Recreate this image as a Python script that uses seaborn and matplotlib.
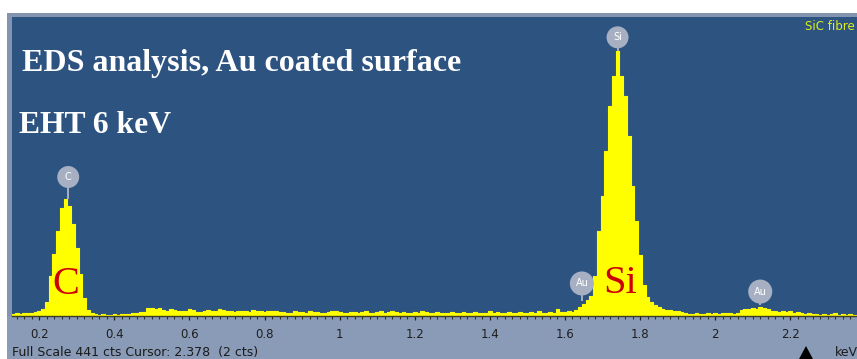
import numpy as np
import pandas as pd
import matplotlib
matplotlib.use('Agg')
import matplotlib.pyplot as plt
from matplotlib.patches import Rectangle, Polygon
import seaborn as sns

# spectrum channels, 10 eV wide, first channel centred on 0.13 keV
start_kev = 0.13
channel_kev = 0.01
counts = [
    3, 4, 3, 4, 5, 4, 6, 7, 10, 21,            # 0.13 - 0.22
    59, 91, 125, 159, 173, 162, 136, 100, 62, 27,  # 0.23 - 0.32 (C)
    9, 4, 3, 2, 3, 2, 2, 3, 2, 3,
    3, 3, 4, 4, 6, 6, 12, 12, 10, 12,
    9, 8, 10, 9, 7, 7, 8, 10, 9, 6,
    6, 8, 9, 8, 7, 10, 9, 7, 8, 6,
    7, 8, 7, 6, 9, 8, 8, 6, 7, 8,
    7, 6, 6, 4, 5, 7, 6, 6, 5, 7,
    6, 6, 5, 4, 6, 8, 7, 6, 5, 4,
    6, 6, 5, 6, 7, 5, 4, 6, 7, 5,
    6, 8, 6, 5, 6, 5, 4, 6, 5, 7,
    6, 5, 4, 6, 5, 4, 5, 6, 4, 5,
    6, 5, 4, 6, 5, 4, 5, 7, 5, 6,
    4, 5, 6, 4, 5, 6, 5, 4, 6, 5,
    7, 5, 4, 6, 5, 10, 6, 6, 7, 6,
    9, 13, 18, 24, 30, 59, 125, 177, 243, 310,    # 1.63 - 1.72
    354, 391, 354, 325, 266, 192, 140, 90, 45, 28,  # 1.73 - 1.82 (Si)
    20, 16, 13, 11, 9, 9, 8, 7, 6, 4,
    3, 3, 4, 3, 3, 4, 3, 4, 3, 4,
    5, 4, 3, 5, 9, 11, 10, 12, 11, 13,          # Au M
    12, 10, 8, 7, 6, 8, 6, 7, 5, 6,
    4, 3, 4, 3, 3, 2, 3, 2, 3, 4,
    2, 3, 2, 3, 2,
]
full_scale = 441

# element markers: label, energy keV, marker height (cts), peak top (cts)
markers = ['C', 'Si', 'Au', 'Au']
marker_kev = [0.277, 1.740, 1.645, 2.120]
marker_cts = [205, 411, 48, 36]
marker_base = [174, 392, 24, 18]

tick_kev = [0.2, 0.4, 0.6, 0.8, 1.0, 1.2, 1.4, 1.6, 1.8, 2.0, 2.2]
tick_labels = ['0.2', '0.4', '0.6', '0.8', '1', '1.2', '1.4', '1.6', '1.8', '2', '2.2']

energy = start_kev + channel_kev * np.arange(len(counts))
df = pd.DataFrame({'kev': energy, 'cts': counts})

W, H = 857, 359
fig = plt.figure(figsize=(W / 100, H / 100), dpi=100)
fig.patch.set_facecolor('white')

def fx(px):
    return px / W

def fy(py):
    return 1 - py / H

# frame and bottom status strip
fig.add_artist(Rectangle((fx(7), 0), 1 - fx(7), fy(13), transform=fig.transFigure,
                         facecolor='#8294b0', edgecolor='none', zorder=-10))
fig.add_artist(Rectangle((fx(7), 0), 1 - fx(7), fy(316), transform=fig.transFigure,
                         facecolor='#8a9bb7', edgecolor='none', zorder=-9))

ax = fig.add_axes([fx(12), fy(316), 1 - fx(12), fy(17) - fy(316)])
ax.set_facecolor('#2d5380')

sns.histplot(data=df, x='kev', weights='cts', binwidth=channel_kev,
             binrange=(start_kev - channel_kev / 2, energy[-1] + channel_kev / 2),
             element='step', fill=True, color='#ffff00', alpha=1, linewidth=0.8,
             edgecolor='#ffff00', ax=ax)

ax.set_xlim(0.1273, 2.3777)
ax.set_ylim(0, full_scale)
for s in ['top', 'left', 'right']:
    ax.spines[s].set_visible(False)
ax.spines['bottom'].set_color('#3c3c28')
ax.spines['bottom'].set_linewidth(1)
ax.set_xlabel('')
ax.set_ylabel('')
ax.set_yticks([])
ax.set_xticks(tick_kev)
ax.set_xticklabels(tick_labels)
ax.set_xticks(np.arange(0.14, 2.38, 0.02), minor=True)
ax.tick_params(axis='x', which='major', length=3.2, width=0.9, color='#202020',
               pad=5.5, labelsize=8.5, labelcolor='#1e1e1e', direction='out')
ax.tick_params(axis='x', which='minor', length=2.4, width=0.8, color='#303030', direction='out')

# element markers
for lab, xk, yc, yb in zip(markers, marker_kev, marker_cts, marker_base):
    ax.plot([xk, xk], [yb, yc], color='#a7b0c2', lw=1.4, zorder=4)
    ax.scatter([xk], [yc], s=250 if lab != 'Au' else 300, color='#a7b0c2',
               edgecolor='none', zorder=5)
    ax.text(xk, yc, lab, color='white', fontsize=7, ha='center', va='center', zorder=6)

# big red element labels
fig.text(fx(65.5), fy(294), 'C', color='#cc0000', fontsize=29,
         family='Liberation Serif', ha='center', va='baseline')
fig.text(fx(603), fy(293), 'Si', color='#cc0000', fontsize=29,
         family='Liberation Serif', ha='left', va='baseline')

# titles
fig.text(fx(22), fy(71), 'EDS analysis, Au coated surface', color='white', fontsize=23,
         family='Liberation Serif', weight='bold', va='baseline')
fig.text(fx(19), fy(133), 'EHT 6 keV', color='white', fontsize=22.8,
         family='Liberation Serif', weight='bold', va='baseline')
fig.text(fx(805), fy(27), 'SiC fibre', color='#dcee1e', fontsize=8.5, va='center')

# status line
fig.text(fx(12.5), fy(356), 'Full Scale 441 cts Cursor: 2.378  (2 cts)', color='#1a1a1a',
         fontsize=9, va='baseline')
fig.text(fx(835), fy(356), 'keV', color='#1a1a1a', fontsize=9, va='baseline')
fig.add_artist(Polygon([(fx(798.5), fy(360)), (fx(806), fy(346)), (fx(813.5), fy(360))],
                       closed=True, transform=fig.transFigure, facecolor='black',
                       edgecolor='none', zorder=10))

fig.savefig('out.png', dpi=100)
